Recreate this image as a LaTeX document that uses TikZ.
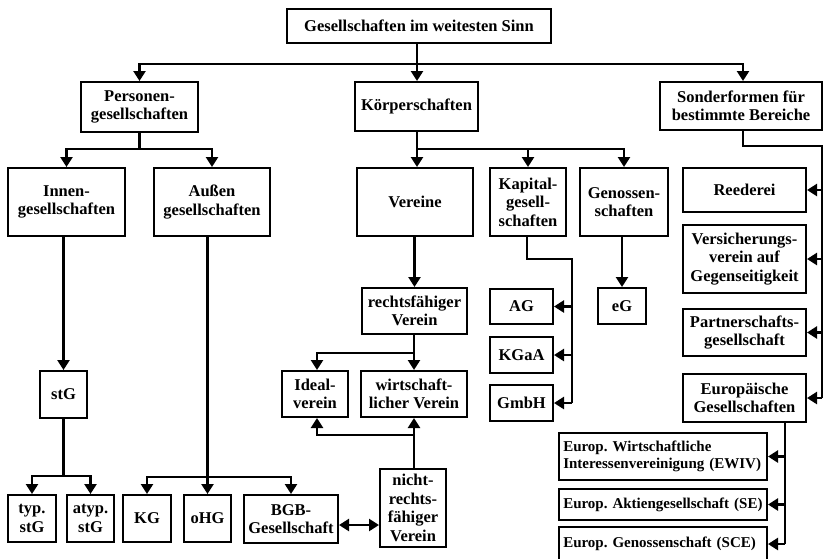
\documentclass[tikz,border=0pt]{standalone}
\usepackage{fontspec}
\setmainfont{Liberation Serif}
\usetikzlibrary{arrows.meta}
\begin{document}
\begin{tikzpicture}[x=1pt,y=-1pt,
  box/.style={draw, line width=2.4pt, align=center, inner sep=2pt,
    font=\fontsize{16.5}{18.5}\selectfont\bfseries},
  rect/.style n args={4}{minimum width={#2-#1-2.4pt}, minimum height={#4-#3-2.4pt},
    at={({(#1+#2)/2},{(#3+#4)/2})}},
  eubox/.style={box, align=left, text width=199.5pt, inner xsep=4pt, inner ysep=2pt,
    font=\fontsize{15}{16.8}\selectfont\bfseries},
  conn/.style={line width=2.4pt},
  arr/.style={conn, -{Triangle[width=12pt,length=10pt]}},
  darr/.style={conn, {Triangle[width=12pt,length=10pt]}-{Triangle[width=12pt,length=10pt]}}]
\useasboundingbox (0,0) rectangle (824,558);

% boxes
\node[box, rect={286}{552}{8}{44}] (top) {Gesellschaften im weitesten Sinn};
\node[box, rect={80}{199}{81}{133}] (pers) {Personen-\\gesellschaften};
\node[box, rect={354}{479}{81}{132}] (koerp) {Körperschaften};
\node[box, rect={659}{823}{81}{131}] (sonder) {Sonderformen für\\bestimmte Bereiche};

\node[box, rect={7}{126}{167}{237}] (innen) {Innen-\\gesellschaften};
\node[box, rect={153}{271}{167}{237}] (aussen) {Außen\\gesellschaften};
\node[box, rect={356}{474}{167}{237}] (vereine) {Vereine};
\node[box, rect={489}{567}{167}{237}] (kapital) {Kapital-\\gesell-\\schaften};
\node[box, rect={579}{669}{167}{237}] (genoss) {Genossen-\\schaften};

\node[box, rect={682}{807}{167}{213}] (reederei) {Reederei};
\node[box, rect={682}{807}{224}{294}] (vvag) {Versicherungs-\\verein auf\\Gegenseitigkeit};
\node[box, rect={682}{807}{308}{357}] (partner) {Partnerschafts-\\gesellschaft};
\node[box, rect={682}{807}{373}{423}] (euro) {Europäische\\Gesellschaften};

\node[box, rect={361}{468}{287}{335}] (rfv) {rechtsfähiger\\Verein};
\node[box, rect={489}{554}{288}{325}] (ag) {AG};
\node[box, rect={489}{554}{336}{374}] (kgaa) {KGaA};
\node[box, rect={489}{554}{384}{422}] (gmbh) {GmbH};
\node[box, rect={597}{647}{287}{325}] (eg) {eG};

\node[box, rect={39}{88}{370}{419}] (stg) {stG};
\node[box, rect={281}{349}{370}{418}] (ideal) {Ideal-\\verein};
\node[box, rect={360}{468}{370}{418}] (wirt) {wirtschaft-\\licher Verein};

\node[eubox, rect={558}{768}{432}{481}] (ewiv) {Europ.\ Wirtschaftliche\\Interessenvereinigung (EWIV)};
\node[eubox, rect={558}{768}{488}{521}] (se) {Europ.\ Aktiengesellschaft (SE)};
\node[eubox, rect={558}{768}{526}{562}] (sce) {Europ.\ Genossenschaft (SCE)};

\node[box, rect={7}{57}{494}{543}] (typ) {typ.\\stG};
\node[box, rect={66}{115}{494}{543}] (atyp) {atyp.\\stG};
\node[box, rect={122}{172}{494}{543}] (kg) {KG};
\node[box, rect={183}{232}{494}{543}] (ohg) {oHG};
\node[box, rect={243}{339}{494}{544}] (bgb) {BGB-\\Gesellschaft};
\node[box, rect={379}{447}{468}{548}] (nrv) {nicht-\\rechts-\\fähiger\\Verein};

% junction points
\coordinate (j0) at (417,64);
\coordinate (j1) at (139.5,149);
\coordinate (j2) at (417,149);
\coordinate (j3) at (743,146);
\coordinate (j4) at (822,146);
\coordinate (j5) at (63.5,476);
\coordinate (j6) at (207.5,477);
\coordinate (j7) at (360,525);
\coordinate (j8) at (414,435);
\coordinate (j9) at (414,353);
\coordinate (j10) at (527,259);
\coordinate (j11) at (572,259);
\coordinate (j12) at (785,423);

% top level
\draw[conn] (top.south -| j0) -- (j0);
\draw[arr] (j0) -| (pers.north);
\draw[arr] (j0) -- (koerp.north -| j0);
\draw[arr] (j0) -| (j3 |- sonder.north);

% Personengesellschaften
\draw[conn] (pers.south) -- (j1);
\draw[arr] (j1) -| (innen.north);
\draw[arr] (j1) -| (aussen.north);
\draw[arr] (innen.south -| stg.north) -- (stg.north);
\draw[conn] (stg.south) -- (j5);
\draw[arr] (j5) -| (typ.north);
\draw[arr] (j5) -| (atyp.north);
\draw[conn] (aussen.south -| j6) -- (j6);
\draw[arr] (j6) -- (ohg.north);
\draw[arr] (j6) -| (kg.north);
\draw[arr] (j6) -| (bgb.north);
\draw[darr] (bgb.east |- j7) -- (nrv.west |- j7);

% Koerperschaften
\draw[conn] (koerp.south -| j2) -- (j2);
\draw[arr] (j2) -- (vereine.north -| j2);
\draw[arr] (j2) -| (kapital.north);
\draw[arr] (j2) -| (genoss.north);
\draw[arr] (vereine.south -| rfv.north) -- (rfv.north);
\draw[arr] (rfv.south -| j9) -- (wirt.north -| j9);
\draw[arr] (j9) -| ([xshift=2pt]ideal.north);
\draw[arr] (nrv.north -| j8) -- (wirt.south -| j8);
\draw[arr] (j8) -| ([xshift=2pt]ideal.south);
\draw[arr] (genoss.south -| eg.north) -- (eg.north);
\draw[conn] (kapital.south -| j10) -- (j10) -- (j11) -- (j11 |- gmbh.east);
\draw[arr] (j11 |- ag.east) -- (ag.east);
\draw[arr] (j11 |- kgaa.east) -- (kgaa.east);
\draw[arr] (j11 |- gmbh.east) -- (gmbh.east);

% Sonderformen
\draw[conn] (sonder.south -| j3) -- (j3) -- (j4) -- (j4 |- euro.east);
\draw[arr] (j4 |- reederei.east) -- (reederei.east);
\draw[arr] (j4 |- vvag.east) -- (vvag.east);
\draw[arr] (j4 |- partner.east) -- (partner.east);
\draw[arr] (j4 |- euro.east) -- (euro.east);
\draw[conn] (euro.south -| j12) -- (j12 |- sce.east);
\draw[arr] (j12 |- ewiv.east) -- (ewiv.east);
\draw[arr] (j12 |- se.east) -- (se.east);
\draw[arr] (j12 |- sce.east) -- (sce.east);
\end{tikzpicture}
\end{document}
